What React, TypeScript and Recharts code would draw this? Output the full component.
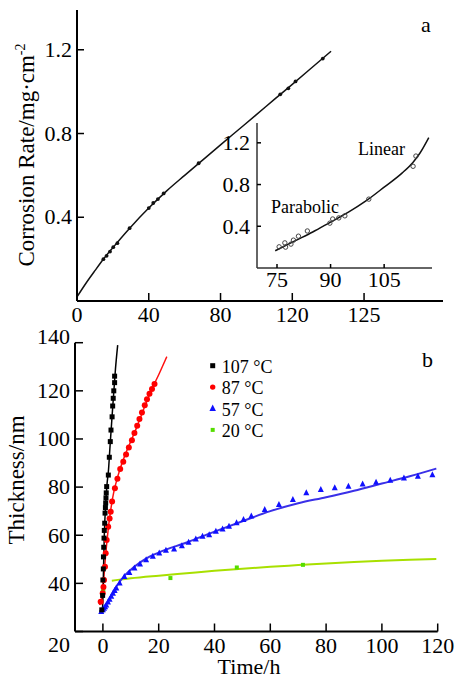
import React from 'react';
import { ComposedChart, Line, Scatter, XAxis, YAxis } from 'recharts';

// ---- panel a: main curve + points
const aCurveX = [0, 5, 10, 15, 20, 30, 40, 50, 60, 70, 80, 90, 100, 110, 120, 130, 141.6];
const aCurveY = [0.02, 0.085, 0.145, 0.203, 0.255, 0.354, 0.444, 0.526, 0.6, 0.673, 0.746, 0.818, 0.89, 0.963, 1.035, 1.108, 1.193];
const aPointX = [14.7, 16.5, 18.4, 20.2, 22.5, 29.3, 40, 42.5, 45.1, 48.3, 67.8, 113.3, 117.8, 121.8, 137];
const aPointY = [0.2, 0.216, 0.236, 0.257, 0.276, 0.348, 0.444, 0.468, 0.487, 0.514, 0.658, 0.987, 1.016, 1.049, 1.158];
const aTicksX = [0, 40, 80, 120, 160];
const aTickLabelsX: Record<number, string> = { 160: '125' };
const aTicksY = [0.4, 0.8, 1.2];

// ---- panel a inset
const inCurveX = [74.5, 80, 85, 90, 95, 100, 105, 110, 113, 115, 117.5];
const inCurveY = [0.165, 0.26, 0.345, 0.44, 0.535, 0.645, 0.775, 0.91, 1.01, 1.1, 1.25];
const inPointX = [75.6, 77.2, 77.4, 78.9, 79.6, 81, 83.5, 89.8, 90.6, 92.3, 94, 100.7, 113.1, 113.9];
const inPointY = [0.203, 0.241, 0.2, 0.229, 0.267, 0.305, 0.355, 0.43, 0.47, 0.48, 0.5, 0.66, 0.975, 1.073];
const inTicksX = [75, 90, 105];
const inTicksY = [0.4, 0.8, 1.2];

// ---- panel b: thickness vs time
const b107LineX = [-0.3, 0, 0.2, 0.5, 1, 1.5, 2, 2.5, 3, 3.5, 4, 4.5, 5.3];
const b107LineY = [28, 33, 45, 60, 73, 81.5, 87, 96, 104.5, 113, 121, 129, 139];
const b107X = [-0.4, -0.1, 0, 0.15, 0.2, 0.3, 0.4, 0.5, 0.65, 0.77, 0.9, 1.0, 1.1, 1.2, 1.35, 1.95, 2.3, 2.65, 2.9, 3.3, 3.5, 3.7, 3.9, 4.2, 4.2];
const b107Y = [29, 35, 41.4, 46, 51, 55, 58.8, 62, 65, 69.2, 71.5, 73.4, 75.5, 77.6, 80.2, 85, 92.4, 98.9, 103.7, 109.2, 113.7, 116.9, 120, 123.4, 126.1];

const b87LineX = [-1.2, -0.5, 0, 0.5, 1, 2, 3, 4, 5, 6, 8, 10, 12, 14, 16, 18, 20, 22.9];
const b87LineY = [31, 33.5, 37, 45, 52, 63.5, 72, 78.5, 83, 87, 93.5, 99, 104.5, 110.5, 116.5, 121.8, 126.7, 134.2];
const b87X = [-0.8, -0.07, 0.2, 0.4, 0.75, 1.0, 1.35, 1.9, 2.4, 2.8, 3.3, 4.3, 5.2, 6.2, 7.3, 8.3, 9.3, 10.4, 11.3, 12.3, 13.1, 14, 15, 15.8, 16.7, 17.6, 18.5];
const b87Y = [32.4, 35.9, 38.5, 41.4, 46.9, 52.5, 58, 63.5, 67, 69.8, 74, 79.5, 83.5, 87.5, 90.5, 93.5, 96.5, 99.5, 102.5, 105.5, 108.3, 111, 114, 116.5, 118.8, 120.8, 122.8];

const b57LineX = [-1.2, 0, 2, 5, 8, 11, 15, 20, 30, 40, 50, 60, 70, 80, 90, 100, 110, 119.5];
const b57LineY = [28.3, 29.5, 33, 39, 43.5, 46.7, 50, 52.8, 57, 61.5, 65.8, 70, 73.3, 75.8, 78.5, 81.5, 84.5, 87.7];
const b57X = [-0.6, 0, 0.4, 0.8, 1.2, 1.8, 2.4, 3, 3.6, 4.2, 4.8, 6, 7.7, 9.5, 11.3, 13.3, 15.5, 17.9, 20.2, 22.6, 25.5, 28.3, 30.7, 33.3, 35.7, 38.1, 40.5, 42.9, 45.2, 47.9, 50.4, 53.2, 58, 63.1, 68.1, 72.9, 78.1, 83.1, 88, 93.1, 97.9, 103, 107.9, 112.9, 118.1];
const b57Y = [28.3, 29, 29.6, 30.2, 31, 32.2, 33.4, 34.6, 35.9, 37, 38, 40.1, 42.8, 44.5, 46.3, 48, 49.8, 51.2, 52.6, 53.7, 54.2, 55.6, 57, 58.4, 59.5, 60.2, 61.6, 62.6, 63.7, 65.1, 66.5, 67.9, 70.6, 72.7, 74.8, 77.6, 79, 79.7, 80.3, 81.2, 82, 82.8, 83.7, 84.5, 85.1];

const b20LineX = [3.2, 10, 20, 30, 40, 50, 60, 70, 80, 90, 100, 110, 119.5];
const b20LineY = [41.1, 42.1, 43.2, 44.2, 45.2, 46.1, 46.9, 47.6, 48.3, 48.9, 49.4, 49.8, 50.1];
const b20X = [0, 0.15, 24.2, 48, 71.7];
const b20Y = [36.6, 37.2, 42.2, 46.6, 47.7];

const bTicksX = [0, 20, 40, 60, 80, 100, 120];
const bTicksY = [20, 40, 60, 80, 100, 120, 140];
const bLegendNames = ['107 °C', '87 °C', '57 °C', '20 °C'];

const zip = (xs: number[], ys: number[]) => xs.map((x, i) => ({ x, y: ys[i] }));

const FONT = '"Liberation Serif", "Times New Roman", serif';

const makeTick =
  (axis: 'x' | 'y', len: number, dy: number, gap: number, labels?: Record<number, string>, shifts?: Record<number, number>) =>
  (props: any) => {
    const { x, y, payload } = props;
    const v = payload.value;
    const text = labels && labels[v] !== undefined ? labels[v] : String(v);
    const s = shifts && shifts[v] ? shifts[v] : 0;
    if (axis === 'x') {
      return (
        <g>
          <line x1={x} y1={y} x2={x} y2={y - len} stroke="#000" strokeWidth={1.5} />
          <text x={x} y={y + dy + s} textAnchor="middle" fontSize={22} fontFamily={FONT} fill="#000">
            {text}
          </text>
        </g>
      );
    }
    return (
      <g>
        <line x1={x} y1={y} x2={x + len} y2={y} stroke="#000" strokeWidth={1.5} />
        <text x={x - gap} y={y + dy + s} textAnchor="end" fontSize={22} fontFamily={FONT} fill="#000">
          {text}
        </text>
      </g>
    );
  };

const square = (size: number, color: string) => (p: any) =>
  <rect x={p.cx - size / 2} y={p.cy - size / 2} width={size} height={size} fill={color} />;
const dot = (r: number, color: string, hollow = false) => (p: any) =>
  <circle cx={p.cx} cy={p.cy} r={r} fill={hollow ? 'none' : color} stroke={color} strokeWidth={hollow ? 1 : 0} />;
const tri = (s: number, color: string) => (p: any) =>
  <polygon points={`${p.cx},${p.cy - s * 0.6} ${p.cx - s / 2},${p.cy + s * 0.4} ${p.cx + s / 2},${p.cy + s * 0.4}`} fill={color} />;

const frame = (w: number, domX: number[], domY: number[]) => [
  <XAxis key="ft" xAxisId="top" orientation="top" type="number" domain={domX} height={0} tick={false} tickLine={false} axisLine={{ stroke: '#000', strokeWidth: w }} />,
  <YAxis key="fr" yAxisId="right" orientation="right" type="number" domain={domY} width={0} tick={false} tickLine={false} axisLine={{ stroke: '#000', strokeWidth: w }} />,
];

const bColors = ['#000000', '#ff0000', '#1010ff', '#55dd00'];

export default function App() {
  const aDomX = [0, 204];
  const aDomY = [0, 1.39];
  const inDomX = [69.4, 118.4];
  const bDomX = [-10, 120];
  const bDomY = [20, 140];

  return (
    <div style={{ position: 'absolute', left: 0, top: 0, width: 459, height: 680, background: '#fff', fontFamily: FONT }}>
      {/* panel a */}
      <div style={{ position: 'absolute', left: 0, top: 0 }}>
        <ComposedChart width={459} height={330} margin={{ top: 10, right: 16, bottom: 0, left: 0 }}>
          <XAxis dataKey="x" type="number" domain={aDomX} ticks={aTicksX} allowDataOverflow height={29} tickSize={0} tickMargin={0} tickLine={false}
            axisLine={{ stroke: '#000', strokeWidth: 2 }} tick={makeTick('x', 8, 21, 0, aTickLabelsX)} />
          <YAxis dataKey="y" type="number" domain={aDomY} ticks={aTicksY} allowDataOverflow width={77} tickSize={0} tickMargin={0} tickLine={false}
            axisLine={{ stroke: '#000', strokeWidth: 2 }} tick={makeTick('y', 7, 7, 5)} />
          {frame(2, aDomX, aDomY)}
          <Line data={zip(aCurveX, aCurveY)} dataKey="y" type="monotone" stroke="#111" strokeWidth={1.5} dot={false} isAnimationActive={false} />
          <Scatter data={zip(aPointX, aPointY)} dataKey="y" shape={dot(1.9, '#111')} isAnimationActive={false} />
        </ComposedChart>
      </div>

      {/* inset */}
      <div style={{ position: 'absolute', left: 200, top: 110 }}>
        <ComposedChart width={240} height={190} margin={{ top: 13, right: 8, bottom: 0, left: 0 }}>
          <XAxis dataKey="x" type="number" domain={inDomX} ticks={inTicksX} allowDataOverflow height={32} tickSize={0} tickMargin={0} tickLine={false}
            axisLine={{ stroke: '#333', strokeWidth: 1.5 }} tick={makeTick('x', 4, 19, 0)} />
          <YAxis dataKey="y" type="number" domain={aDomY} ticks={inTicksY} allowDataOverflow width={57} tickSize={0} tickMargin={0} tickLine={false}
            axisLine={{ stroke: '#333', strokeWidth: 1.5 }} tick={makeTick('y', 4, 7.5, 7)} />
          {frame(1.5, inDomX, aDomY)}
          <Line data={zip(inCurveX, inCurveY)} dataKey="y" type="monotone" stroke="#111" strokeWidth={1.5} dot={false} isAnimationActive={false} />
          <Scatter data={zip(inPointX, inPointY)} dataKey="y" shape={dot(2.2, '#444', true)} isAnimationActive={false} />
        </ComposedChart>
      </div>

      {/* panel b */}
      <div style={{ position: 'absolute', left: 0, top: 320 }}>
        <ComposedChart width={459} height={360} margin={{ top: 22.7, right: 21.3, bottom: 0, left: 0 }}>
          <XAxis dataKey="x" type="number" domain={bDomX} ticks={bTicksX} allowDataOverflow height={48.5} tickSize={0} tickMargin={0} tickLine={false}
            axisLine={{ stroke: '#000', strokeWidth: 2 }} tick={makeTick('x', 8, 21.5, 0)} />
          <YAxis dataKey="y" type="number" domain={bDomY} ticks={bTicksY} allowDataOverflow width={75} tickSize={0} tickMargin={0} tickLine={false}
            axisLine={{ stroke: '#000', strokeWidth: 2 }} tick={makeTick('y', 8, 7.3, 5, undefined, { 140: -6, 20: 13 })} />
          {frame(2, bDomX, bDomY)}
          <Line data={zip(b20LineX, b20LineY)} dataKey="y" type="monotone" stroke="#a8e000" strokeWidth={2} dot={false} isAnimationActive={false} />
          <Line data={zip(b57LineX, b57LineY)} dataKey="y" type="monotone" stroke="#3a30e8" strokeWidth={2} dot={false} isAnimationActive={false} />
          <Line data={zip(b87LineX, b87LineY)} dataKey="y" type="monotone" stroke="#ff1010" strokeWidth={1.5} dot={false} isAnimationActive={false} />
          <Line data={zip(b107LineX, b107LineY)} dataKey="y" type="monotone" stroke="#000" strokeWidth={1.5} dot={false} isAnimationActive={false} />
          <Scatter data={zip(b20X, b20Y)} dataKey="y" shape={square(4, bColors[3])} isAnimationActive={false} />
          <Scatter data={zip(b57X, b57Y)} dataKey="y" shape={tri(6, bColors[2])} isAnimationActive={false} />
          <Scatter data={zip(b87X, b87Y)} dataKey="y" shape={dot(3, bColors[1])} isAnimationActive={false} />
          <Scatter data={zip(b107X, b107Y)} dataKey="y" shape={square(5, bColors[0])} isAnimationActive={false} />
        </ComposedChart>
      </div>

      {/* texts */}
      <svg width={459} height={680} style={{ position: 'absolute', left: 0, top: 0, pointerEvents: 'none' }} fontFamily={FONT}>
        <text x={421} y={32} fontSize={22}>a</text>
        <text x={422} y={366.7} fontSize={22}>b</text>
        <text x={358} y={155} fontSize={18}>Linear</text>
        <text x={271} y={213} fontSize={18}>Parabolic</text>
        <text transform="rotate(-90 34 155)" x={34} y={155} textAnchor="middle" fontSize={23}>
          Corrosion Rate/mg·cm<tspan dy={-9} fontSize={14}>-2</tspan>
        </text>
        <text transform="rotate(-90 24 480)" x={24} y={480} textAnchor="middle" fontSize={23}>Thickness/nm</text>
        <text x={249} y={674} textAnchor="middle" fontSize={22}>Time/h</text>
        {bLegendNames.map((n, i) => {
          const cy = 365.7 + i * 21.4;
          const p = { cx: 212.7, cy };
          const mark = i === 0 ? square(5, bColors[0])(p) : i === 1 ? dot(2.7, bColors[1])(p) : i === 2 ? tri(6.5, bColors[2])(p) : square(4, bColors[3])(p);
          return (
            <g key={n}>
              {mark}
              <text x={221.7} y={cy + 7} fontSize={18}>{n}</text>
            </g>
          );
        })}
      </svg>
    </div>
  );
}
